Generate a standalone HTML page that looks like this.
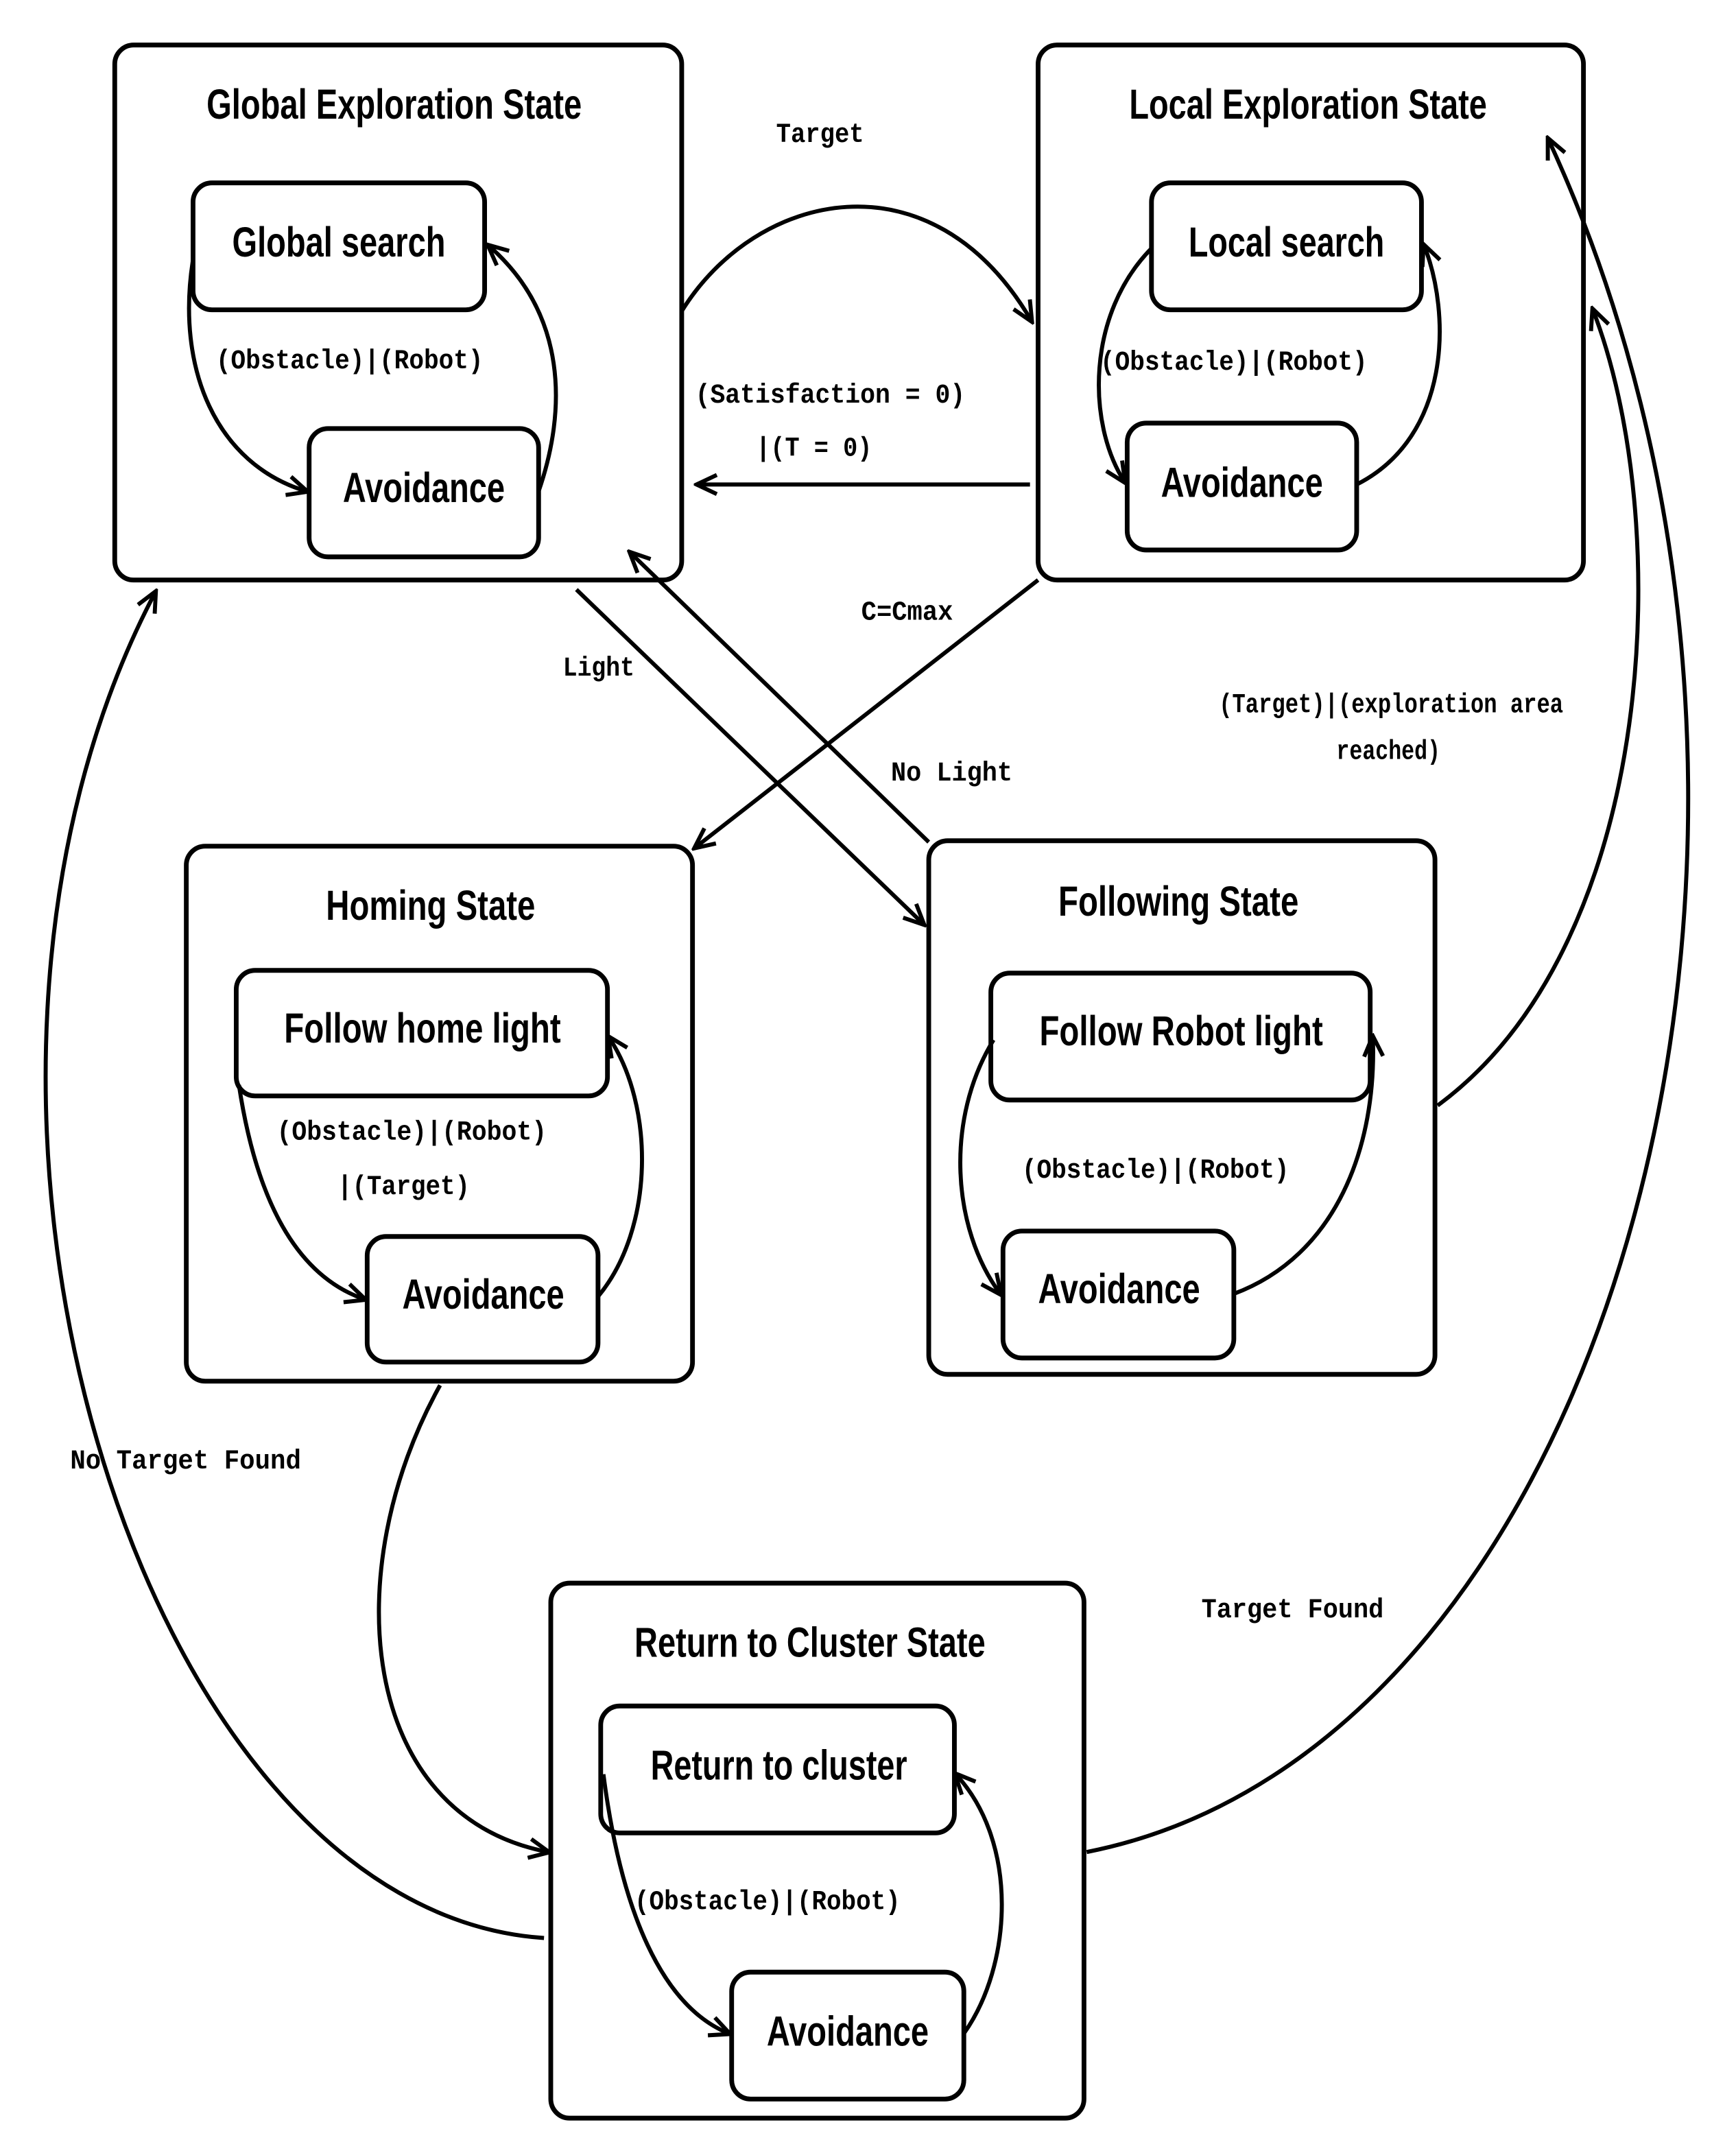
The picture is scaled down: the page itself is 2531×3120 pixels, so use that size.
<!DOCTYPE html>
<html><head><meta charset="utf-8"><style>
html,body{margin:0;padding:0;background:#fff;}
svg{display:block;}
.t{font-family:"Liberation Sans Narrow","Liberation Sans",sans-serif;font-weight:bold;font-size:31px;text-anchor:middle;}
.m{font-family:"Liberation Mono",monospace;font-size:20px;font-weight:bold;}
.b{fill:#fff;stroke:#000;stroke-width:3.5;}
.a{fill:none;stroke:#000;stroke-width:3;}
</style></head><body>
<svg width="2531" height="3120" viewBox="0 0 1286 1568" preserveAspectRatio="none" xmlns="http://www.w3.org/2000/svg">
<defs>
<marker id="ar" markerWidth="18" markerHeight="18" refX="15" refY="8" orient="auto" markerUnits="userSpaceOnUse" viewBox="0 0 18 16">
<path d="M1,1 L16,8 L1,15" fill="none" stroke="#000" stroke-width="3"/>
</marker>
</defs>
<rect width="1286" height="1568" fill="#fff"/>

<!-- Global -->
<rect class="b" x="85" y="33" width="420" height="392" rx="14"/>
<text class="t" x="292" y="87" textLength="278" lengthAdjust="spacingAndGlyphs">Global Exploration State</text>
<rect class="b" x="143" y="134" width="216" height="93" rx="14"/>
<text class="t" x="251" y="188" textLength="158" lengthAdjust="spacingAndGlyphs">Global search</text>
<rect class="b" x="229" y="314" width="170" height="94" rx="14"/>
<text class="t" x="314" y="368" textLength="120" lengthAdjust="spacingAndGlyphs">Avoidance</text>
<path class="a" d="M143,190 C130,270 160,340 227,360" marker-end="url(#ar)"/>
<path class="a" d="M399,360 C420,300 420,230 362,180" marker-end="url(#ar)"/>
<text class="m" x="160" y="270" textLength="198" lengthAdjust="spacingAndGlyphs">(Obstacle)|(Robot)</text>

<!-- Local -->
<rect class="b" x="769" y="33" width="404" height="392" rx="14"/>
<text class="t" x="969" y="87" textLength="265" lengthAdjust="spacingAndGlyphs">Local Exploration State</text>
<rect class="b" x="853" y="134" width="200" height="93" rx="14"/>
<text class="t" x="953" y="188" textLength="145" lengthAdjust="spacingAndGlyphs">Local search</text>
<rect class="b" x="835" y="310" width="170" height="93" rx="14"/>
<text class="t" x="920" y="364" textLength="120" lengthAdjust="spacingAndGlyphs">Avoidance</text>
<path class="a" d="M853,182 C805,230 805,310 833,353" marker-end="url(#ar)"/>
<path class="a" d="M1005,355 C1075,320 1075,230 1055,180" marker-end="url(#ar)"/>
<text class="m" x="815" y="271" textLength="198" lengthAdjust="spacingAndGlyphs">(Obstacle)|(Robot)</text>

<!-- Between top -->
<path class="a" d="M505,228 C560,140 690,110 764,235" marker-end="url(#ar)"/>
<text class="m" x="575" y="104" textLength="65" lengthAdjust="spacingAndGlyphs">Target</text>
<text class="m" x="515" y="295" textLength="200" lengthAdjust="spacingAndGlyphs">(Satisfaction = 0)</text>
<text class="m" x="560" y="334" textLength="86" lengthAdjust="spacingAndGlyphs">|(T = 0)</text>
<path class="a" d="M763,355 L517,355" marker-end="url(#ar)"/>
<text class="m" x="638" y="454" textLength="68" lengthAdjust="spacingAndGlyphs">C=Cmax</text>
<path class="a" d="M769,425 L515,621" marker-end="url(#ar)"/>
<text class="m" x="417" y="495" textLength="53" lengthAdjust="spacingAndGlyphs">Light</text>
<path class="a" d="M427,432 L684,677" marker-end="url(#ar)"/>
<text class="m" x="660" y="572" textLength="90" lengthAdjust="spacingAndGlyphs">No Light</text>
<path class="a" d="M688,617 L467,405" marker-end="url(#ar)"/>
<text class="m" x="903" y="522" textLength="255" lengthAdjust="spacingAndGlyphs">(Target)|(exploration area</text>
<text class="m" x="990" y="556" textLength="77" lengthAdjust="spacingAndGlyphs">reached)</text>
<path class="a" d="M1065,810 C1230,690 1240,380 1180,227" marker-end="url(#ar)"/>

<!-- Homing -->
<rect class="b" x="138" y="620" width="375" height="392" rx="14"/>
<text class="t" x="319" y="674" textLength="155" lengthAdjust="spacingAndGlyphs">Homing State</text>
<rect class="b" x="175" y="711" width="275" height="92" rx="14"/>
<text class="t" x="313" y="764" textLength="205" lengthAdjust="spacingAndGlyphs">Follow home light</text>
<rect class="b" x="272" y="906" width="171" height="92" rx="14"/>
<text class="t" x="358" y="959" textLength="120" lengthAdjust="spacingAndGlyphs">Avoidance</text>
<path class="a" d="M177,795 C190,880 220,935 270,952" marker-end="url(#ar)"/>
<path class="a" d="M443,950 C485,900 485,810 451,760" marker-end="url(#ar)"/>
<text class="m" x="205" y="835" textLength="200" lengthAdjust="spacingAndGlyphs">(Obstacle)|(Robot)</text>
<text class="m" x="250" y="875" textLength="98" lengthAdjust="spacingAndGlyphs">|(Target)</text>

<!-- Following -->
<rect class="b" x="688" y="616" width="375" height="391" rx="14"/>
<text class="t" x="873" y="671" textLength="178" lengthAdjust="spacingAndGlyphs">Following State</text>
<rect class="b" x="734" y="713" width="281" height="93" rx="14"/>
<text class="t" x="875" y="766" textLength="210" lengthAdjust="spacingAndGlyphs">Follow Robot light</text>
<rect class="b" x="743" y="902" width="171" height="93" rx="14"/>
<text class="t" x="829" y="955" textLength="120" lengthAdjust="spacingAndGlyphs">Avoidance</text>
<path class="a" d="M736,762 C700,820 705,900 741,948" marker-end="url(#ar)"/>
<path class="a" d="M914,948 C990,920 1020,840 1017,760" marker-end="url(#ar)"/>
<text class="m" x="757" y="863" textLength="198" lengthAdjust="spacingAndGlyphs">(Obstacle)|(Robot)</text>

<!-- Return -->
<rect class="b" x="408" y="1160" width="395" height="392" rx="14"/>
<text class="t" x="600" y="1214" textLength="260" lengthAdjust="spacingAndGlyphs">Return to Cluster State</text>
<rect class="b" x="445" y="1250" width="262" height="93" rx="14"/>
<text class="t" x="577" y="1304" textLength="190" lengthAdjust="spacingAndGlyphs">Return to cluster</text>
<rect class="b" x="542" y="1445" width="172" height="93" rx="14"/>
<text class="t" x="628" y="1499" textLength="120" lengthAdjust="spacingAndGlyphs">Avoidance</text>
<path class="a" d="M447,1300 C460,1400 490,1470 540,1490" marker-end="url(#ar)"/>
<path class="a" d="M714,1490 C750,1440 755,1350 708,1300" marker-end="url(#ar)"/>
<text class="m" x="470" y="1399" textLength="197" lengthAdjust="spacingAndGlyphs">(Obstacle)|(Robot)</text>

<!-- Big arrows -->
<path class="a" d="M326,1015 C250,1150 265,1330 406,1357" marker-end="url(#ar)"/>
<path class="a" d="M403,1420 C100,1400 -80,800 115,434" marker-end="url(#ar)"/>
<path class="a" d="M805,1357 C1200,1280 1380,600 1147,102" marker-end="url(#ar)"/>
<text class="m" x="52" y="1076" textLength="171" lengthAdjust="spacingAndGlyphs">No Target Found</text>
<text class="m" x="890" y="1185" textLength="135" lengthAdjust="spacingAndGlyphs">Target Found</text>
</svg>
</body></html>
